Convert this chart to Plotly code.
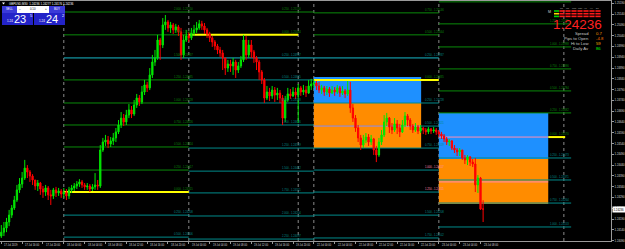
import plotly.graph_objects as go

# ---------------- data ----------------
opens = [1.24111,1.24129,1.24148,1.24176,1.24208,1.24241,1.24278,1.24325,1.24352,1.24380,
1.24426,1.24408,1.24389,1.24371,1.24343,1.24357,1.24329,1.24315,1.24334,1.24302,
1.24297,1.24325,1.24311,1.24320,1.24306,1.24315,1.24297,1.24325,1.24334,1.24343,
1.24352,1.24362,1.24348,1.24339,1.24343,1.24329,1.24339,1.24348,1.24343,1.24510,
1.24547,1.24556,1.24538,1.24552,1.24566,1.24594,1.24626,1.24658,1.24640,1.24672,
1.24696,1.24677,1.24719,1.24751,1.24733,1.24779,1.24812,1.24798,1.24858,1.24918,
1.24937,1.25020,1.24997,1.25090,1.25104,1.25076,1.25090,1.25067,1.25081,1.25058,
1.24951,1.25020,1.25039,1.25030,1.25053,1.25067,1.25076,1.25095,1.25085,1.25067,
1.25048,1.25030,1.25011,1.24992,1.24974,1.24960,1.24937,1.24890,1.24909,1.24900,
1.24918,1.24881,1.24900,1.24928,1.25020,1.24951,1.24997,1.24965,1.24937,1.24918,
1.24872,1.24835,1.24751,1.24779,1.24761,1.24788,1.24765,1.24774,1.24751,1.24658,
1.24742,1.24770,1.24761,1.24779,1.24765,1.24798,1.24779,1.24788,1.24774,1.24807,
1.24816,1.24821,1.24807,1.24788,1.24798,1.24779,1.24793,1.24774,1.24788,1.24779,
1.24798,1.24774,1.24784,1.24770,1.24788,1.24705,1.24658,1.24612,1.24566,1.24533,
1.24556,1.24570,1.24547,1.24561,1.24510,1.24487,1.24547,1.24580,1.24640,1.24658,
1.24617,1.24603,1.24631,1.24612,1.24594,1.24626,1.24668,1.24649,1.24621,1.24603,
1.24617,1.24598,1.24612,1.24603,1.24594,1.24608,1.24598,1.24603,1.24594,1.24584,
1.24575,1.24561,1.24547,1.24552,1.24519,1.24510,1.24501,1.24510,1.24473,1.24464,
1.24478,1.24454,1.24445,1.24348,1.24380,1.24236]
highs = [1.24162,1.24176,1.24195,1.24232,1.24255,1.24297,1.24348,1.24380,1.24408,1.24464,
1.24440,1.24417,1.24398,1.24371,1.24371,1.24362,1.24343,1.24348,1.24343,1.24325,
1.24334,1.24339,1.24334,1.24329,1.24334,1.24329,1.24339,1.24348,1.24357,1.24366,
1.24375,1.24371,1.24357,1.24357,1.24352,1.24352,1.24403,1.24371,1.24533,1.24566,
1.24580,1.24575,1.24570,1.24589,1.24612,1.24649,1.24686,1.24677,1.24696,1.24723,
1.24714,1.24742,1.24770,1.24765,1.24807,1.24835,1.24826,1.24890,1.24951,1.24974,
1.25044,1.25030,1.25122,1.25136,1.25113,1.25104,1.25099,1.25095,1.25090,1.25076,
1.25044,1.25067,1.25058,1.25076,1.25090,1.25104,1.25113,1.25109,1.25099,1.25076,
1.25058,1.25039,1.25020,1.25002,1.24988,1.24974,1.24937,1.24928,1.24928,1.24937,
1.24928,1.24918,1.24946,1.25044,1.25039,1.25020,1.25020,1.24974,1.24946,1.24928,
1.24881,1.24844,1.24807,1.24798,1.24807,1.24802,1.24798,1.24788,1.24765,1.24761,
1.24798,1.24793,1.24802,1.24798,1.24816,1.24807,1.24812,1.24807,1.24835,1.24840,
1.24835,1.24830,1.24826,1.24812,1.24807,1.24807,1.24802,1.24807,1.24802,1.24812,
1.24807,1.24807,1.24793,1.24830,1.24826,1.24723,1.24672,1.24626,1.24580,1.24580,
1.24589,1.24584,1.24580,1.24566,1.24529,1.24566,1.24603,1.24672,1.24682,1.24663,
1.24635,1.24658,1.24649,1.24631,1.24649,1.24686,1.24677,1.24658,1.24631,1.24635,
1.24626,1.24626,1.24617,1.24612,1.24617,1.24612,1.24617,1.24612,1.24603,1.24594,
1.24584,1.24570,1.24561,1.24556,1.24533,1.24519,1.24519,1.24510,1.24487,1.24487,
1.24482,1.24468,1.24473,1.24394,1.24385,1.24277]
lows = [1.24102,1.24111,1.24129,1.24157,1.24195,1.24232,1.24269,1.24311,1.24334,1.24371,
1.24380,1.24362,1.24348,1.24325,1.24320,1.24302,1.24288,1.24297,1.24278,1.24255,
1.24283,1.24292,1.24297,1.24288,1.24288,1.24278,1.24283,1.24311,1.24320,1.24329,
1.24339,1.24334,1.24325,1.24325,1.24315,1.24320,1.24325,1.24325,1.24334,1.24501,
1.24529,1.24519,1.24524,1.24533,1.24547,1.24584,1.24612,1.24621,1.24626,1.24658,
1.24658,1.24668,1.24705,1.24714,1.24723,1.24765,1.24779,1.24788,1.24844,1.24900,
1.24928,1.24928,1.24983,1.25067,1.25058,1.25053,1.25048,1.25053,1.25039,1.24928,
1.24937,1.25011,1.25011,1.25020,1.25039,1.25053,1.25067,1.25067,1.25048,1.25030,
1.25011,1.24988,1.24974,1.24955,1.24942,1.24881,1.24858,1.24872,1.24872,1.24858,
1.24844,1.24867,1.24890,1.24918,1.24928,1.24937,1.24937,1.24914,1.24881,1.24835,
1.24816,1.24728,1.24742,1.24737,1.24747,1.24733,1.24742,1.24728,1.24626,1.24640,
1.24733,1.24747,1.24756,1.24747,1.24635,1.24761,1.24765,1.24756,1.24770,1.24788,
1.24798,1.24788,1.24774,1.24770,1.24761,1.24765,1.24756,1.24770,1.24761,1.24770,
1.24756,1.24765,1.24751,1.24761,1.24682,1.24640,1.24594,1.24547,1.24510,1.24519,
1.24542,1.24529,1.24533,1.24487,1.24454,1.24478,1.24533,1.24570,1.24621,1.24589,
1.24584,1.24594,1.24584,1.24570,1.24589,1.24617,1.24621,1.24603,1.24589,1.24594,
1.24584,1.24589,1.24584,1.24580,1.24584,1.24584,1.24589,1.24580,1.24570,1.24561,
1.24547,1.24533,1.24529,1.24510,1.24496,1.24482,1.24482,1.24464,1.24445,1.24440,
1.24436,1.24431,1.24315,1.24311,1.24232,1.24176]
closes = [1.24129,1.24148,1.24176,1.24208,1.24241,1.24278,1.24325,1.24352,1.24380,1.24426,
1.24408,1.24389,1.24371,1.24343,1.24357,1.24329,1.24315,1.24334,1.24302,1.24297,
1.24325,1.24311,1.24320,1.24306,1.24315,1.24297,1.24325,1.24334,1.24343,1.24352,
1.24362,1.24348,1.24339,1.24343,1.24329,1.24339,1.24348,1.24343,1.24510,1.24547,
1.24556,1.24538,1.24552,1.24566,1.24594,1.24626,1.24658,1.24640,1.24672,1.24696,
1.24677,1.24719,1.24751,1.24733,1.24779,1.24812,1.24798,1.24858,1.24918,1.24937,
1.25020,1.24997,1.25090,1.25104,1.25076,1.25090,1.25067,1.25081,1.25058,1.24951,
1.25020,1.25039,1.25030,1.25053,1.25067,1.25076,1.25095,1.25085,1.25067,1.25048,
1.25030,1.25011,1.24992,1.24974,1.24960,1.24937,1.24890,1.24909,1.24900,1.24918,
1.24881,1.24900,1.24928,1.25020,1.24951,1.24997,1.24965,1.24937,1.24918,1.24872,
1.24835,1.24751,1.24779,1.24761,1.24788,1.24765,1.24774,1.24751,1.24658,1.24742,
1.24770,1.24761,1.24779,1.24765,1.24798,1.24779,1.24788,1.24774,1.24807,1.24816,
1.24821,1.24807,1.24788,1.24798,1.24779,1.24793,1.24774,1.24788,1.24779,1.24798,
1.24774,1.24784,1.24770,1.24788,1.24705,1.24658,1.24612,1.24566,1.24533,1.24556,
1.24570,1.24547,1.24561,1.24510,1.24487,1.24547,1.24580,1.24640,1.24658,1.24617,
1.24603,1.24631,1.24612,1.24594,1.24626,1.24668,1.24649,1.24621,1.24603,1.24617,
1.24598,1.24612,1.24603,1.24594,1.24608,1.24598,1.24603,1.24594,1.24584,1.24575,
1.24561,1.24547,1.24552,1.24519,1.24510,1.24501,1.24510,1.24473,1.24464,1.24478,
1.24454,1.24445,1.24348,1.24380,1.24236,1.24236]
bar_index = list(range(len(closes)))

date_label_idx = [0, 8, 16, 24, 32, 40, 48, 56, 64, 72, 80, 88, 96, 104, 112,
                  120, 128, 136, 144, 152, 160, 168, 176, 184]
date_labels = ["17 Jul 2019", "17 Jul 16:00", "17 Jul 20:00",
               "18 Jul 00:00", "18 Jul 04:00", "18 Jul 08:00", "18 Jul 12:00", "18 Jul 16:00", "18 Jul 20:00",
               "19 Jul 00:00", "19 Jul 04:00", "19 Jul 08:00", "19 Jul 12:00", "19 Jul 16:00", "19 Jul 20:00",
               "22 Jul 00:00", "22 Jul 04:00", "22 Jul 08:00", "22 Jul 12:00", "22 Jul 16:00", "22 Jul 20:00",
               "23 Jul 00:00", "23 Jul 04:00", "23 Jul 08:00"]

price_ticks = [1.25190, 1.25140, 1.25090, 1.25040, 1.24990, 1.24940, 1.24890, 1.24840,
               1.24790, 1.24740, 1.24690, 1.24640, 1.24590, 1.24540, 1.24490, 1.24440,
               1.24390, 1.24340, 1.24290, 1.24240, 1.24190, 1.24140, 1.24090]

day_sep_idx = [24, 72, 120, 168, 216]
extra_vline_idx = [114]

# daily levels: prices and ratio tags (None = label not visible in the chart)
levels_A = [1.25150, 1.25044, 1.24937, 1.24835, 1.24728, 1.24626, 1.24524, 1.24417, 1.24315, 1.24208, 1.24106]
levels_B = [1.25150, 1.25044, 1.24937, 1.24835, 1.24728, 1.24626, 1.24519, 1.24412, 1.24311, 1.24204, 1.24097]
levels_C = [1.25146, 1.25044, 1.24937, 1.24835, 1.24728, 1.24621, 1.24519, 1.24417, 1.24315, 1.24208, 1.24102]
levels_D = [1.25197, 1.25095, 1.24988, 1.24886, 1.24784, 1.24682, 1.24570, 1.24473, 1.24371, 1.24264, 1.24153]
ratios_A = ["2.000", "1.750", "1.500", "1.250", "1.000", "0.750", "0.500", "0.250", "0.000", "0.250", "0.500"]
ratios_B = ["0.250", "0.000", "0.250", "0.500", "0.750", "1.000", "1.250", "1.500", "1.750", "2.000", "2.250"]
ratios_C = ["0.750", "0.500", "0.250", "0.000", "0.250", "0.500", "0.750", "1.000", "1.250", "1.500", "1.750"]
ratios_D = [None, "1.250", "1.000", "0.750", "0.500", "0.250", "0.000", "0.250", "0.500", "0.750", "1.000"]

# zones (boxes)
zone_C = dict(x0=120, x1=161.2, top=1.24849, mid=1.24728, bot=1.24519, pinks=[1.24621])
zone_D = dict(x0=168, x1=210, top=1.24682, mid=1.24468, bot=1.24260, pinks=[1.24570, 1.24362])

symbol = "GBPUSD,M30"
last_ohlc = ["1.24236", "1.24277", "1.24176", "1.24236"]
last_price = 1.24236
tf_names = ["M1", "M5", "M15", "M30", "H1", "H4", "D1"]
info_names = ["Spread", "Pips to Open", "Hi to Low", "Daily Av"]
info_values = ["0.7", "-4.8", "59", "86"]
sell_price = ["1.24", "23", "5"]
buy_price = ["1.24", "24", "2"]
lot_size = "0.10"

# ---------------- styling / layout ----------------
W, H = 625, 249
PX0, PX1, PY0, PY1 = 0, 611, 1, 241
GREEN = "#0a8a0a"
TEAL = "#008b8b"
CYAN = "#18b8c8"
YEL = "#ffff00"
PINK = "#ff8cb4"
GRID = "#9a9a9a"
FONT = "Liberation Sans"


def pxp(x):
    return (x - PX0) / (PX1 - PX0)


def pyp(y):
    return (PY1 - y) / (PY1 - PY0)


fig = go.Figure()
fig.add_trace(go.Candlestick(
    x=bar_index, open=opens, high=highs, low=lows, close=closes,
    increasing=dict(line=dict(color="#00e600", width=1), fillcolor="#00e600"),
    decreasing=dict(line=dict(color="#ff0000", width=1), fillcolor="#ff0000"),
    whiskerwidth=0, hoverinfo="skip", showlegend=False))

shapes = []
annos = []

# vertical dotted separators
for v in day_sep_idx + extra_vline_idx:
    shapes.append(dict(type="line", xref="x", yref="paper", x0=v, x1=v, y0=0, y1=1,
                       line=dict(color="#8a8a8a", width=1, dash="dot"), layer="below"))

# zone boxes
for z in (zone_C, zone_D):
    shapes.append(dict(type="rect", xref="x", yref="y", x0=z["x0"], x1=z["x1"], y0=z["mid"], y1=z["top"],
                       fillcolor="#1e90ff", line=dict(width=0), layer="below"))
    shapes.append(dict(type="rect", xref="x", yref="y", x0=z["x0"], x1=z["x1"], y0=z["bot"], y1=z["mid"],
                       fillcolor="#ff8c00", line=dict(width=0), layer="below"))

# (levels, ratios, start, end, label x, pivot start, pivot end, line colours, label colours)
day_sets = [
    (levels_A, ratios_A, 24, 72, 74.5, 24, 72,
     [GREEN, GREEN, CYAN, GREEN, GREEN, GREEN, GREEN, GREEN, YEL, TEAL, TEAL],
     [GREEN] * 9 + [TEAL, TEAL]),
    (levels_B, ratios_B, 72, 120, 116, 72, 114,
     [GREEN, YEL, CYAN] + [TEAL] * 8,
     [GREEN, GREEN] + [TEAL] * 9),
    (levels_C, ratios_C, 120, 168, 170.8, 120, 168,
     [GREEN, GREEN, CYAN, YEL, TEAL, TEAL, TEAL, TEAL, TEAL, TEAL, TEAL],
     [GREEN, GREEN, TEAL, GREEN, TEAL, TEAL, TEAL, PINK, PINK, TEAL, TEAL]),
    (levels_D, ratios_D, 168, 218.8, 218.8, 210, 216.5,
     [GREEN] * 6 + [YEL] + [TEAL] * 4,
     [GREEN] * 7 + [TEAL] * 4),
]
yellow_shapes = []
for lv, rt, xs, xe, xl, ps, pe, lcols, tcols in day_sets:
    for p, r, lc, tc in zip(lv, rt, lcols, tcols):
        if lc == YEL:
            yellow_shapes.append(dict(type="line", xref="x", yref="y", x0=ps, x1=pe, y0=p, y1=p,
                                      line=dict(color=lc, width=2), layer="below"))
        else:
            shapes.append(dict(type="line", xref="x", yref="y", x0=xs, x1=xe, y0=p, y1=p,
                               line=dict(color=lc, width=1), layer="below"))
        if r is not None:
            annos.append(dict(x=xl, y=p, xref="x", yref="y", text=f"{r} - {p:.5f}", showarrow=False,
                              xanchor="right", yanchor="bottom", yshift=-1,
                              font=dict(size=2.7, color=tc, family=FONT)))
shapes += yellow_shapes
for z in (zone_C, zone_D):
    for p in z["pinks"]:
        shapes.append(dict(type="line", xref="x", yref="y", x0=z["x0"], x1=z["x1"], y0=p, y1=p,
                           line=dict(color=PINK, width=1), layer="below"))

# x-axis date labels (left aligned like MT4)
for i, t in zip(date_label_idx, date_labels):
    annos.append(dict(x=i, y=pyp(245), xref="x", yref="paper", text=t, showarrow=False,
                      xanchor="left", yanchor="middle", xshift=1,
                      font=dict(size=2.6, color="#d8d8d8", family=FONT)))

# current price marker on the axis
annos.append(dict(x=1, y=last_price, xref="paper", yref="y", text=f"{last_price:.5f}", showarrow=False,
                  xanchor="left", yanchor="middle", xshift=1, bgcolor="#ffffff", borderpad=0.5,
                  font=dict(size=2.8, color="#000000", family=FONT)))

# header text
annos.append(dict(x=pxp(7), y=pyp(3.6), xref="paper", yref="paper",
                  text=symbol + "  " + " ".join(last_ohlc), showarrow=False,
                  xanchor="left", yanchor="middle", font=dict(size=2.9, color="#ffffff", family=FONT)))
shapes.append(dict(type="path", xref="paper", yref="paper",
                   path=f"M {pxp(2)} {pyp(2.5)} L {pxp(5)} {pyp(2.5)} L {pxp(3.5)} {pyp(4.5)} Z",
                   fillcolor="#ffffff", line=dict(width=0)))


def rect(x0, y0, x1, y1, color):
    shapes.append(dict(type="rect", xref="paper", yref="paper", x0=pxp(x0), x1=pxp(x1),
                       y0=pyp(y1), y1=pyp(y0), fillcolor=color, line=dict(width=0)))


def text(x, y, s, size, color, anchor="center", family=FONT):
    annos.append(dict(x=pxp(x), y=pyp(y), xref="paper", yref="paper", text=s, showarrow=False,
                      xanchor=anchor, yanchor="middle", font=dict(size=size, color=color, family=family)))


# trade panel
rect(2, 6, 17, 13, "#3a3ad8")
rect(17, 6, 49, 13, "#ffffff")
rect(49, 6, 65, 13, "#3a3ad8")
rect(2, 13, 33, 25, "#2323c8")
rect(34, 13, 65, 25, "#2323c8")
text(9.5, 9.5, "SELL", 2.8, "#ffffff")
text(57, 9.5, "BUY", 2.8, "#ffffff")
text(33, 9.5, lot_size, 2.8, "#000000")
text(20, 9.5, "\u2013", 3, "#000000")
text(46, 9.5, "+", 3, "#000000")
for x0, pr in ((2, sell_price), (34, buy_price)):
    text(x0 + 3, 20.5, pr[0], 3, "#ffffff", "left")
    text(x0 + 10, 19.5, pr[1], 11, "#ffffff", "left")
    text(x0 + 26, 15.5, pr[2], 4, "#ffffff", "left")

# top-right info panel
tf_x = [562, 568, 574, 580, 586, 592, 598]
for x, n in zip(tf_x, tf_names):
    text(x, 7.6, n, 2.2, "#b0b0b0")
for row, y in enumerate((10.2, 12.9, 15.6)):
    rect(554, y, 559, y + 1.6, ["#00d000", "#ffd700", "#00d000"][row])
    for x in tf_x:
        rect(x - 2.6, y, x + 2.6, y + 1.6, "#ff1a1a")
text(549.5, 12.2, "M", 3.6, "#d0d0d0")
text(604, 24, f"{last_price:.5f}", 13.5, "#ff2020", "right")
info_colors = ["#ff9900", "#ff7a00", "#ffb000", "#00ff00"]
for k, (n, v, c) in enumerate(zip(info_names, info_values, info_colors)):
    y = 33.5 + 5 * k
    text(591, y, n, 4.2, "#c8c8c8", "right")
    text(594, y, v, 4.2, c, "left")

fig.update_layout(
    width=W, height=H,
    margin=dict(l=PX0, r=W - PX1, t=PY0, b=H - PY1, autoexpand=False),
    paper_bgcolor="#000000", plot_bgcolor="#000000",
    showlegend=False,
    xaxis=dict(range=[-0.5, 234.1], rangeslider=dict(visible=False), showgrid=False, zeroline=False,
               showline=True, mirror=True, linecolor=GRID, linewidth=1,
               tickvals=date_label_idx, ticks="outside", ticklen=2, tickcolor=GRID,
               showticklabels=False, fixedrange=True),
    yaxis=dict(range=[1.24088, 1.25201], side="right", showgrid=False, zeroline=False,
               showline=True, mirror=True, linecolor=GRID, linewidth=1,
               tickvals=price_ticks, tickformat=".5f", ticks="outside", ticklen=2, tickcolor=GRID,
               tickfont=dict(size=2.8, color="#d8d8d8", family=FONT), fixedrange=True),
    shapes=shapes, annotations=annos,
)

fig.write_html("out.html")
